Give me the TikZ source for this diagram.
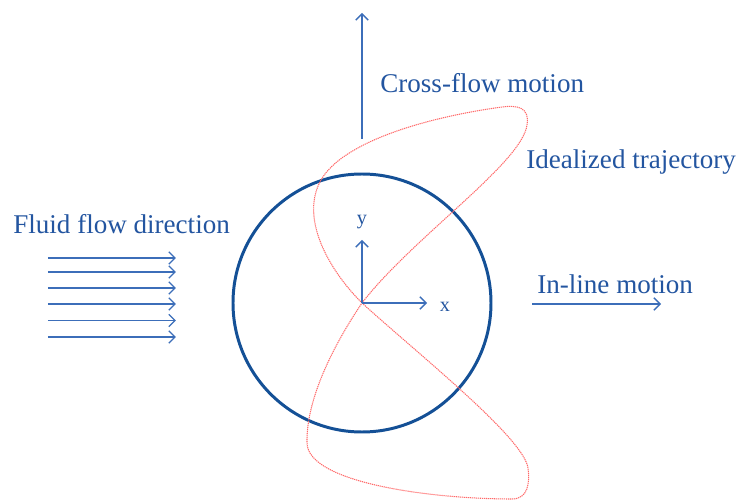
\documentclass[tikz,border=0pt]{standalone}
\usepackage{fontspec}
\setmainfont{Liberation Serif}
\usepackage{tikz}
\usetikzlibrary{calc}
\usetikzlibrary{arrows.meta}
\definecolor{textblue}{RGB}{35,85,160}
\definecolor{circblue}{RGB}{20,80,150}
\definecolor{arrowblue}{RGB}{60,110,185}
\definecolor{trajred}{RGB}{255,105,105}
\tikzset{
    bluearrow/.style={
        line width=0.8pt,
        arrowblue,
        ->,
        >={Straight Barb[length=3.5pt, width=7pt]}
    },
    % texte bleu des legendes
    bluelabel/.style={
        textblue,
        inner sep=0pt,
        font=\fontsize{15.4}{18}\selectfont
    },
    axislabel/.style={
        textblue,
        inner sep=0pt,
        font=\fontsize{11.5}{13}\selectfont
    },
    trajline/.style={
        trajred,
        line width=0.6pt,
        dash pattern=on 0.7pt off 0.45pt
    }
}

\begin{document}
\begin{tikzpicture}[x=0.2mm,y=0.2mm]
    \useasboundingbox (-362,-197) rectangle (375,303);

    \draw[circblue, line width=1.7pt] (0,0) circle (129);

    \draw[trajline] (0,0) .. controls (50,65) and (160,140) .. (165,178)
        .. controls (168,196) and (155,198) .. (140,196)
        .. controls (60,185) and (-20,160) .. (-41,123)
        .. controls (-62,86) and (-35,35) .. (0,0)
        .. controls (-27,-40) and (-56,-95) .. (-55,-140)
        .. controls (-54,-180) and (70,-196) .. (150,-196)
        .. controls (166,-196) and (168,-180) .. (166,-165)
        .. controls (162,-135) and (55,-50) .. (0,0);

    \coordinate (o) at (0,0);
    \coordinate (xend) at (65,0);
    \coordinate (yend) at (0,63);
    \draw[bluearrow] (o) to (xend);
    \draw[bluearrow] (o) to (yend);
    \node[axislabel] (xlab) at (83,-4) {x};
    \node[axislabel] (ylab) at (0,81) {y};

    \coordinate (c0) at (0,164);
    \coordinate (c1) at (0,290);
    \draw[bluearrow] (c0) to (c1);
    \node[bluelabel, anchor=base west] (crossflow) at (18,210) {Cross-flow motion};

    \node[bluelabel, anchor=base west] (trajlab) at (164,134) {Idealized trajectory};

    \coordinate (i0) at (170,-1);
    \coordinate (i1) at (299,-1);
    \draw[bluearrow] (i0) to (i1);
    \node[bluelabel, anchor=base west] (inline) at (175,10) {In-line motion};

    \node[bluelabel, anchor=base west] (fluid) at (-349,69) {Fluid flow direction};
    \foreach \y [count=\i] in {45,31,15,-1,-17.5,-34} {
        \coordinate (f\i a) at (-314,\y);
        \coordinate (f\i b) at (-186,\y);
        \draw[bluearrow] (f\i a) to (f\i b);
    }
\end{tikzpicture}
\end{document}
